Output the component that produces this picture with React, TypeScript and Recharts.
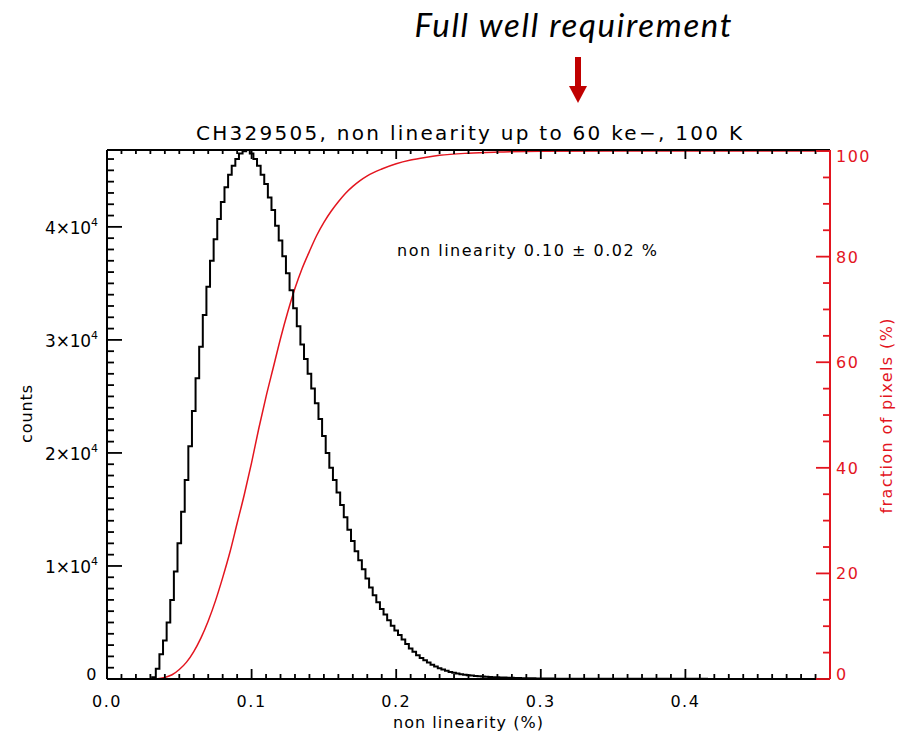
import { ComposedChart, Line, XAxis, YAxis } from 'recharts'

const W = 906
const H = 735
const RED = '#e3151f'
const ARROW = '#c00000'
const FONT = '"DejaVu Sans", sans-serif'

// histogram of non linearity (%), bin centres start at 0.03, bin width 0.0025
const histStart = 0.03
const histBin = 0.0025
const histCounts = [
  0, 150, 900, 2200, 3400, 5000, 7000, 9500, 12000, 14800,
  17600, 20600, 23700, 26600, 29400, 32200, 34700, 37000, 38900, 40700,
  42200, 43500, 44600, 45400, 46000, 46500, 46700, 46800, 46500, 46000,
  45400, 44600, 43800, 42600, 41500, 40100, 38800, 37400, 35900, 34400,
  32800, 31200, 29600, 28300, 27000, 25700, 24400, 23000, 21500, 20000,
  18700, 17600, 16500, 15400, 14300, 13200, 12200, 11300, 10500, 9700,
  8900, 8100, 7400, 6800, 6200, 5700, 5200, 4700, 4300, 3900,
  3500, 3100, 2700, 2400, 2100, 1850, 1650, 1450, 1250, 1100,
  950, 830, 720, 630, 550, 480, 420, 370, 330, 300,
  270, 240, 220, 200, 180, 165, 150, 138, 125, 112,
  100, 90, 82, 75, 68, 62, 56, 51, 46, 42,
  38, 34, 31, 28, 25, 22, 20, 18, 16, 14, 12,
]

// cumulative fraction of pixels (%)
const cdfX = [
  0, 0.03, 0.035, 0.04, 0.045, 0.05, 0.055, 0.06, 0.065, 0.07, 0.075, 0.08, 0.085,
  0.09, 0.095, 0.1, 0.105, 0.11, 0.115, 0.12, 0.125, 0.13, 0.135, 0.14, 0.145,
  0.15, 0.155, 0.16, 0.165, 0.17, 0.175, 0.18, 0.19, 0.2, 0.21, 0.22, 0.23,
  0.25, 0.27, 0.3, 0.35, 0.5,
]
const cdfPct = [
  0, 0, 0.05, 0.3, 0.8, 1.8, 3.2, 5.2, 7.8, 11, 14.8, 19.2, 24,
  29.5, 35, 41, 47.5, 53.5, 59, 64.5, 69.5, 74, 77.8, 81, 84,
  86.5, 88.6, 90.4, 92, 93.3, 94.4, 95.3, 96.6, 97.6, 98.3, 98.8, 99.2,
  99.6, 99.8, 99.95, 100, 100,
]

const xMajor = [0, 0.1, 0.2, 0.3, 0.4]
const xMajorLabels = ['0.0', '0.1', '0.2', '0.3', '0.4']
const countMajor = [0, 10000, 20000, 30000, 40000]
const countMantissa = ['0', '1', '2', '3', '4']
const pctMajor = [0, 20, 40, 60, 80, 100]

const xDomain = [0, 0.5]
const countDomain = [0, 46800]
const pctDomain = [0, 100.2]

const histData = [
  { x: 0, c: 0 },
  ...histCounts.map((c, i) => ({ x: histStart + i * histBin, c })),
  { x: 0.5, c: 0 },
]
const cdfData = cdfX.map((x, i) => ({ x, p: cdfPct[i] }))

const xTicks = Array.from({ length: 50 }, (_, i) => i / 100)
const countTicks = Array.from({ length: 47 }, (_, i) => i * 1000)
const pctTicks = Array.from({ length: 21 }, (_, i) => i * 5)

const labelStyle = { fontFamily: FONT, fontSize: 16, letterSpacing: 1.5 }

const BottomTick = (p: any) => {
  const { x, y, payload } = p
  const i = xMajor.indexOf(payload.value)
  return (
    <g>
      <line x1={x} x2={x} y1={y} y2={y - (i >= 0 ? 10 : 5)} stroke="#000" strokeWidth={1.8} />
      {i >= 0 && (
        <text x={x} y={y + 28} textAnchor="middle" fill="#000" style={labelStyle}>
          {xMajorLabels[i]}
        </text>
      )}
    </g>
  )
}

const TopTick = (p: any) => {
  const { x, y, payload } = p
  const major = xMajor.indexOf(payload.value) >= 0
  return <line x1={x} x2={x} y1={y} y2={y + (major ? 9 : 4)} stroke="#000" strokeWidth={1.8} />
}

const LeftTick = (p: any) => {
  const { x, y, payload } = p
  const i = countMajor.indexOf(payload.value)
  return (
    <g>
      <line x1={x} x2={x + (i >= 0 ? 15 : 7)} y1={y} y2={y} stroke="#000" strokeWidth={1.8} />
      {i === 0 && (
        <text x={x - 9} y={y + 1} textAnchor="end" fill="#000" style={labelStyle}>0</text>
      )}
      {i > 0 && (
        <text
          x={x - 9}
          y={y + 7}
          textAnchor="end"
          fill="#000"
          textLength={53}
          lengthAdjust="spacing"
          style={{ fontFamily: FONT, fontSize: 17 }}
        >
          {countMantissa[i]}×10<tspan dy={-8} fontSize={11}>4</tspan>
        </text>
      )}
    </g>
  )
}

const RightTick = (p: any) => {
  const { x, y, payload } = p
  const v = payload.value
  const major = pctMajor.indexOf(v) >= 0
  const dy = v === 0 ? 1 : v === 100 ? 11 : 6
  return (
    <g>
      <line x1={x} x2={x - (major ? 14 : 7)} y1={y} y2={y} stroke={RED} strokeWidth={1.8} />
      {major && (
        <text x={x + 6} y={y + dy} textAnchor="start" fill={RED} style={labelStyle}>{v}</text>
      )}
    </g>
  )
}

export default function App() {
  return (
    <div style={{ position: 'absolute', left: 0, top: 0, width: W, height: H, background: '#fff' }}>
      <ComposedChart width={W} height={H} margin={{ top: 130, right: 16, bottom: 16, left: 47 }}>
        <XAxis
          xAxisId="b"
          type="number"
          dataKey="x"
          domain={xDomain}
          ticks={xTicks}
          interval={0}
          height={40}
          tickSize={0}
          tickMargin={0}
          tickLine={false}
          tick={BottomTick}
          axisLine={{ stroke: '#000', strokeWidth: 2 }}
          allowDataOverflow
        />
        <XAxis
          xAxisId="t"
          orientation="top"
          type="number"
          dataKey="x"
          domain={xDomain}
          ticks={xTicks}
          interval={0}
          height={20}
          tickSize={0}
          tickMargin={0}
          tickLine={false}
          tick={TopTick}
          axisLine={{ stroke: '#000', strokeWidth: 2 }}
          allowDataOverflow
        />
        <YAxis
          yAxisId="c"
          type="number"
          domain={countDomain}
          ticks={countTicks}
          interval={0}
          width={60}
          tickSize={0}
          tickMargin={0}
          tickLine={false}
          tick={LeftTick}
          axisLine={{ stroke: '#000', strokeWidth: 2 }}
          allowDataOverflow
        />
        <YAxis
          yAxisId="p"
          orientation="right"
          type="number"
          domain={pctDomain}
          ticks={pctTicks}
          interval={0}
          width={60}
          tickSize={0}
          tickMargin={0}
          tickLine={false}
          tick={RightTick}
          axisLine={{ stroke: RED, strokeWidth: 2 }}
          allowDataOverflow
        />
        <Line
          xAxisId="b"
          yAxisId="p"
          data={cdfData}
          dataKey="p"
          type="monotone"
          stroke={RED}
          strokeWidth={1.5}
          dot={false}
          isAnimationActive={false}
        />
        <Line
          xAxisId="b"
          yAxisId="c"
          data={histData}
          dataKey="c"
          type="step"
          stroke="#000"
          strokeWidth={2}
          dot={false}
          isAnimationActive={false}
        />
      </ComposedChart>
      <svg width={W} height={H} style={{ position: 'absolute', left: 0, top: 0, pointerEvents: 'none' }}>
        <text
          x={573}
          y={37}
          textAnchor="middle"
          textLength={317}
          lengthAdjust="spacing"
          style={{ fontFamily: 'Lato, "Open Sans", sans-serif', fontStyle: 'italic', fontSize: 33 }}
          fill="#000"
        >
          Full well requirement
        </text>
        <rect x={575} y={57} width={6} height={30} fill={ARROW} />
        <polygon points="569,86 587,86 578,103" fill={ARROW} />
        <text
          x={469}
          y={140}
          textAnchor="middle"
          textLength={546}
          lengthAdjust="spacing"
          style={{ fontFamily: FONT, fontSize: 20 }}
          fill="#000"
        >
          CH329505, non linearity up to 60 ke−, 100 K
        </text>
        <text
          x={527}
          y={256}
          textAnchor="middle"
          textLength={260}
          lengthAdjust="spacing"
          style={{ fontFamily: FONT, fontSize: 16 }}
          fill="#000"
        >
          non linearity 0.10 ± 0.02 %
        </text>
        <text
          x={468}
          y={728}
          textAnchor="middle"
          textLength={150}
          lengthAdjust="spacing"
          style={{ fontFamily: FONT, fontSize: 16 }}
          fill="#000"
        >
          non linearity (%)
        </text>
        <text
          transform="translate(32,414) rotate(-90)"
          textAnchor="middle"
          textLength={58}
          lengthAdjust="spacing"
          style={{ fontFamily: FONT, fontSize: 16 }}
          fill="#000"
        >
          counts
        </text>
        <text
          transform="translate(892,416) rotate(-90)"
          textAnchor="middle"
          textLength={195}
          lengthAdjust="spacing"
          style={{ fontFamily: FONT, fontSize: 16 }}
          fill={RED}
        >
          fraction of pixels (%)
        </text>
      </svg>
    </div>
  )
}
